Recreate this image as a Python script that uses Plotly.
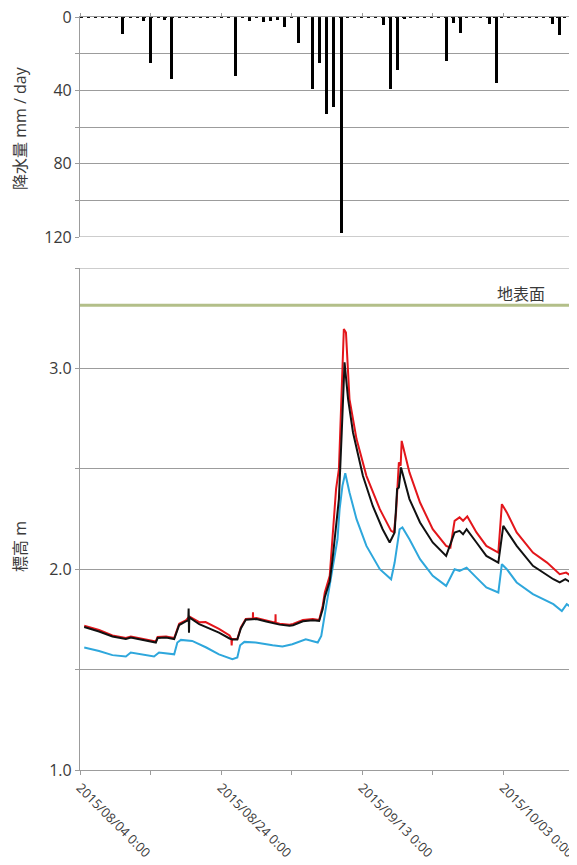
import pandas as pd
import plotly.graph_objects as go

# ---------------- data ----------------
START = pd.Timestamp("2015-08-04 00:00")
END_DAYS = 70.45  # right edge of the plotted period (days after START)

# daily precipitation (mm/day), one value per day from 2015/08/04 to 2015/10/13
precip_mm = [
    0, 0, 0, 0, 0, 0, 9, 0, 0, 2,        # 08/04 - 08/13
    25, 0, 1.5, 34, 0, 0, 0, 0, 0, 0,    # 08/14 - 08/23
    0, 0, 32, 0, 2, 0, 2.5, 2, 1.5, 5.5, # 08/24 - 09/02
    0.5, 14, 0, 39, 25, 53, 49, 118, 0, 0,  # 09/03 - 09/12
    0, 0, 0, 4.5, 39, 29, 1, 0, 0, 0,    # 09/13 - 09/22
    0, 0, 24, 3.5, 8.5, 0, 0, 0, 4, 36,  # 09/23 - 10/02
    0, 0, 0, 0, 0, 0, 0, 4, 10, 0,       # 10/03 - 10/12
    0,                                   # 10/13
]

# water level (m) — elapsed days since 2015/08/04 0:00 and level
red_days = [0.6, 2.7, 4.6, 6.5, 7.2, 8.4, 9.8, 10.75, 11.0, 12.2, 13.35, 13.7, 14.06, 15.0, 15.5,
            16.9, 17.8, 19.7, 21.2, 21.45, 21.5, 21.55, 22.3, 22.8, 23.5, 24.5, 24.52, 24.54, 25.0,
            26.4, 27.7, 27.72, 27.74, 28.3, 29.7, 30.2, 31.6, 33.0, 33.9, 34.4, 34.7, 35.4, 35.8,
            36.3, 36.7, 37.0, 37.4, 37.7, 38.2, 39.2, 40.6, 42.5, 44.1, 44.5, 44.8, 45.2, 45.45,
            45.6, 46.7, 48.2, 50.0, 51.9, 52.5, 53.1, 53.8, 54.3, 54.9, 56.2, 57.6, 59.3, 59.8,
            60.5, 61.9, 64.2, 66.2, 68.0, 68.9, 70.4]
red_level = [1.718, 1.697, 1.670, 1.658, 1.665, 1.657, 1.648, 1.640, 1.662, 1.665, 1.657, 1.692,
             1.728, 1.745, 1.764, 1.736, 1.737, 1.703, 1.670, 1.655, 1.620, 1.652, 1.652, 1.710,
             1.752, 1.755, 1.785, 1.755, 1.757, 1.744, 1.733, 1.775, 1.733, 1.729, 1.724, 1.727,
             1.747, 1.752, 1.747, 1.817, 1.884, 1.967, 2.183, 2.400, 2.498, 2.847, 3.196, 3.179,
             2.847, 2.648, 2.465, 2.299, 2.191, 2.183, 2.283, 2.532, 2.515, 2.639, 2.482, 2.332,
             2.199, 2.116, 2.108, 2.241, 2.258, 2.241, 2.263, 2.183, 2.116, 2.083, 2.324, 2.283,
             2.183, 2.083, 2.033, 1.975, 1.983, 1.950]

black_days = [0.6, 2.7, 4.6, 6.5, 7.2, 8.4, 9.8, 10.75, 11.0, 12.2, 13.35, 13.7, 14.06, 15.0,
              15.35, 15.4, 15.45, 15.5, 16.9, 19.7, 21.2, 21.6, 22.3, 22.8, 23.5, 25.0, 26.4, 28.3,
              29.7, 30.2, 31.6, 33.0, 33.9, 34.4, 34.7, 35.4, 35.8, 36.3, 36.7, 37.1, 37.5, 38.0,
              38.7, 40.1, 41.5, 42.9, 43.9, 44.6, 44.95, 45.2, 45.5, 46.7, 48.2, 50.0, 51.9, 53.1,
              53.8, 54.3, 54.8, 56.2, 57.6, 59.3, 60.0, 61.9, 64.2, 67.1, 68.0, 68.8, 70.4]
black_level = [1.712, 1.690, 1.665, 1.653, 1.660, 1.652, 1.643, 1.635, 1.657, 1.660, 1.652, 1.687,
               1.722, 1.740, 1.745, 1.804, 1.684, 1.760, 1.726, 1.684, 1.655, 1.650, 1.650, 1.705,
               1.748, 1.752, 1.740, 1.724, 1.719, 1.721, 1.741, 1.746, 1.742, 1.800, 1.860, 1.940,
               2.050, 2.216, 2.349, 2.681, 3.030, 2.847, 2.681, 2.465, 2.315, 2.199, 2.133, 2.183,
               2.399, 2.407, 2.507, 2.349, 2.233, 2.133, 2.066, 2.183, 2.191, 2.174, 2.199, 2.133,
               2.066, 2.033, 2.216, 2.116, 2.017, 1.950, 1.934, 1.950, 1.917]

blue_days = [0.6, 2.7, 4.6, 6.5, 7.2, 8.9, 10.5, 11.2, 13.35, 13.8, 14.3, 15.9, 17.9, 19.7, 21.6,
             22.3, 22.7, 23.3, 24.9, 27.3, 28.7, 30.1, 32.0, 33.7, 34.2, 34.9, 35.8, 36.5, 36.8,
             37.2, 37.6, 38.2, 39.2, 40.6, 42.5, 44.1, 44.6, 45.3, 45.7, 46.7, 48.2, 50.0, 51.9,
             53.1, 53.8, 54.8, 56.2, 57.6, 59.3, 59.8, 60.5, 61.9, 64.2, 67.1, 68.3, 69.0, 70.4]
blue_level = [1.610, 1.593, 1.572, 1.565, 1.585, 1.573, 1.565, 1.585, 1.576, 1.635, 1.648, 1.643,
              1.610, 1.576, 1.552, 1.560, 1.621, 1.638, 1.635, 1.621, 1.615, 1.626, 1.651, 1.635,
              1.668, 1.817, 2.017, 2.149, 2.299, 2.415, 2.478, 2.382, 2.249, 2.116, 2.000, 1.950,
              2.033, 2.199, 2.208, 2.149, 2.050, 1.967, 1.917, 2.000, 1.992, 2.008, 1.958, 1.909,
              1.884, 2.025, 2.000, 1.934, 1.876, 1.826, 1.792, 1.826, 1.792]

GROUND_LEVEL = 3.315
GROUND_LABEL = "地表面"

precip_ticks = [0, 20, 40, 60, 80, 100, 120]
precip_ticktext = ["0", "", "40", "", "80", "", "120"]
level_ticks = [1.0, 1.5, 2.0, 2.5, 3.0, 3.5]
level_ticktext = ["1.0", "", "2.0", "", "3.0", ""]
date_tick_days = [0, 10, 20, 30, 40, 50, 60, 70]
date_ticktext = ["2015/08/04 0:00", "", "2015/08/24 0:00", "", "2015/09/13 0:00", "",
                 "2015/10/03 0:00", ""]

# ---------------- helpers ----------------
def to_dates(days):
    return [START + pd.Timedelta(days=d) for d in days]

precip_dates = [START + pd.Timedelta(days=i) for i in range(len(precip_mm))]
x_range = [START, START + pd.Timedelta(days=END_DAYS)]

# the page body has an 8px margin, so the figure is offset by 8px
OFF = 8
W, H = 577 - OFF, 865 - OFF
def px_x(p):
    return (p - OFF) / W
def px_y(p):
    return 1 - (p - OFF) / H

FONT = "Open Sans, Noto Sans CJK JP, sans-serif"
TXT = "#3a3a3a"
GRID = "#9c9c9c"

fig = go.Figure()

fig.add_trace(go.Bar(x=precip_dates, y=precip_mm, xaxis="x", yaxis="y",
                     marker=dict(color="#000000", line=dict(width=0)),
                     width=0.42 * 86400000, showlegend=False))

fig.add_trace(go.Scatter(x=x_range, y=[GROUND_LEVEL, GROUND_LEVEL], xaxis="x2", yaxis="y2",
                         mode="lines", line=dict(color="#b3bf89", width=3), showlegend=False))
fig.add_trace(go.Scatter(x=to_dates(blue_days), y=blue_level, xaxis="x2", yaxis="y2",
                         mode="lines", line=dict(color="#2ea7dc", width=2), showlegend=False))
fig.add_trace(go.Scatter(x=to_dates(red_days), y=red_level, xaxis="x2", yaxis="y2",
                         mode="lines", line=dict(color="#e3161b", width=2), showlegend=False))
fig.add_trace(go.Scatter(x=to_dates(black_days), y=black_level, xaxis="x2", yaxis="y2",
                         mode="lines", line=dict(color="#111111", width=2), showlegend=False))

xdom = [px_x(80), 1.0]
top_dom = [px_y(237), px_y(17)]
bot_dom = [px_y(770), px_y(268)]

date_tickvals = to_dates(date_tick_days)

fig.update_layout(
    width=W, height=H, margin=dict(l=0, r=0, t=0, b=0, autoexpand=False),
    paper_bgcolor="white", plot_bgcolor="white",
    font=dict(family=FONT, color=TXT, size=16),
    bargap=0,
    xaxis=dict(domain=xdom, anchor="y", side="top", range=x_range, type="date",
               tickvals=date_tickvals, showticklabels=False, automargin=False,
               ticks="outside", ticklen=3, tickcolor=GRID, showline=True, linecolor=GRID,
               linewidth=1.2, showgrid=False, zeroline=False),
    yaxis=dict(domain=top_dom, anchor="x", range=[120, 0], tickvals=precip_ticks,
               ticktext=precip_ticktext, ticks="outside", ticklen=4, tickcolor=GRID,
               showline=True, linecolor=GRID, linewidth=1.2, showgrid=True, gridcolor=GRID,
               gridwidth=1.2, zeroline=False, tickfont=dict(size=16, color=TXT),
               automargin=False, ticklabeloverflow="allow"),
    xaxis2=dict(domain=xdom, anchor="y2", range=x_range, type="date",
                tickvals=date_tickvals, ticktext=date_ticktext, tickangle=45,
                ticks="outside", ticklen=4, tickcolor=GRID, showline=True, linecolor=GRID,
                linewidth=1.2, showgrid=False, zeroline=False, automargin=False,
                ticklabeloverflow="allow", tickfont=dict(size=13, color=TXT)),
    yaxis2=dict(domain=bot_dom, anchor="x2", range=[1.0, 3.5], tickvals=level_ticks,
                ticktext=level_ticktext, ticks="outside", ticklen=4, tickcolor=GRID,
                showline=True, linecolor=GRID, linewidth=1.2, showgrid=True, gridcolor=GRID,
                gridwidth=1.2, zeroline=False, tickfont=dict(size=16, color=TXT),
                automargin=False, ticklabeloverflow="allow"),
    shapes=[
        # edge gridlines (plotly hides gridlines lying on the plot-area border)
        dict(type="line", xref="paper", yref="y", x0=xdom[0], x1=xdom[1], y0=120, y1=120,
             line=dict(color=GRID, width=1.2), layer="below"),
        dict(type="line", xref="paper", yref="y2", x0=xdom[0], x1=xdom[1], y0=3.5, y1=3.5,
             line=dict(color=GRID, width=1.2), layer="below"),
        # zero line of the rainfall panel (dotted)
        dict(type="line", xref="x", yref="y", x0=x_range[0], x1=x_range[1], y0=0, y1=0,
             line=dict(color="#111111", width=2, dash="3px,4px")),
    ],
    annotations=[
        dict(text="降水量 mm / day", xref="paper", yref="paper", x=px_x(20), y=px_y(128),
             textangle=-90, showarrow=False, font=dict(size=16, color=TXT),
             xanchor="center", yanchor="middle"),
        dict(text="標高 m", xref="paper", yref="paper", x=px_x(20), y=px_y(547),
             textangle=-90, showarrow=False, font=dict(size=16, color=TXT),
             xanchor="center", yanchor="middle"),
        dict(text=GROUND_LABEL, xref="paper", yref="y2", x=px_x(547), y=GROUND_LEVEL,
             xanchor="right", yanchor="bottom", yshift=-2, showarrow=False,
             font=dict(size=16, color=TXT)),
    ],
)

fig.write_html("out.html")
